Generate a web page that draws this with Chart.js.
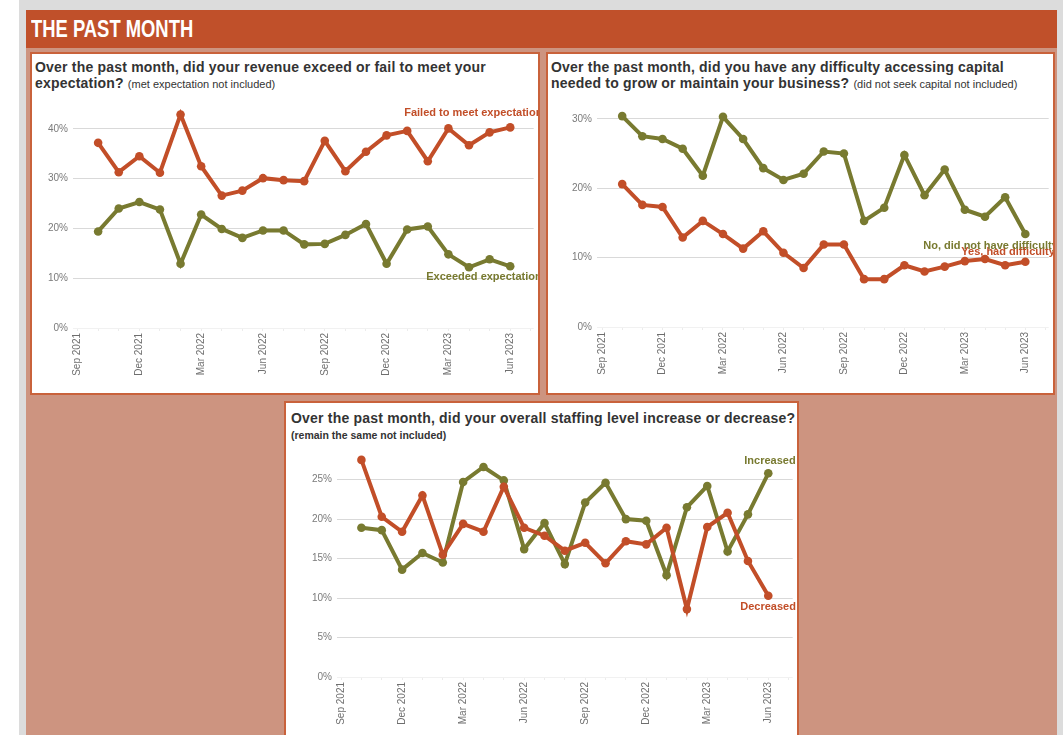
<!DOCTYPE html>
<html>
<head>
<meta charset="utf-8">
<script src="https://cdn.jsdelivr.net/npm/chart.js@4.4.0/dist/chart.umd.min.js"></script>
<style>
    body { margin: 0; background: #ffffff; overflow: hidden; font-family: "Liberation Sans", Arial, sans-serif; }
    .frame { position: absolute; left: 19px; top: 0; width: 1044px; height: 735px; background: #dcdcdc; }
    .panel { position: absolute; left: 26px; top: 10px; width: 1031px; height: 725px; background: #cd9480; }
    .header { position: absolute; left: 26px; top: 10px; width: 1031px; height: 38px; background: #c0502a; }
    .header span { position: absolute; left: 5px; top: 6px; color: #fff; font-weight: bold; font-size: 23px;
        transform: scaleX(0.8); transform-origin: left; white-space: nowrap; }
    .card { position: absolute; background: #fff; border: 2px solid #c9623b; box-sizing: border-box; }
    .title { position: absolute; left: 3px; top: 5px; color: #333; font-weight: bold; font-size: 14px;
        line-height: 16px; letter-spacing: 0.2px; white-space: nowrap; }
    .title small { font-weight: normal; font-size: 11px; letter-spacing: 0; }
    .title .sub { font-size: 10.5px; letter-spacing: 0; }
    canvas { position: absolute; }
</style>
</head>
<body>
<div class="frame"></div>
<div class="panel"></div>
<div class="header"><span>THE PAST MONTH</span></div>

<div class="card" style="left:30px; top:52px; width:510px; height:343px;">
    <div class="title">Over the past month, did your revenue exceed or fail to meet your<br>expectation? <small>(met expectation not included)</small></div>
</div>
<div class="card" style="left:546px; top:52px; width:509px; height:343px;">
    <div class="title">Over the past month, did you have any difficulty accessing capital<br>needed to grow or maintain your business? <small>(did not seek capital not included)</small></div>
</div>
<div class="card" style="left:284px; top:401px; width:515px; height:345px;">
    <div class="title" style="left:5px; top:7px;">Over the past month, did your overall staffing level increase or decrease?<br><span class="sub">(remain the same not included)</span></div>
</div>

<canvas id="revenueChart" width="506" height="297" style="left:32px; top:95px;"></canvas>
<canvas id="capitalChart" width="505" height="297" style="left:548px; top:95px;"></canvas>
<canvas id="staffChart" width="511" height="295" style="left:286px; top:440px;"></canvas>

<script>
// Month axis (Sep 2021 is the axis start, data begins Oct 2021)
const months = ['Sep 2021', 'Oct 2021', 'Nov 2021', 'Dec 2021', 'Jan 2022', 'Feb 2022', 'Mar 2022',
    'Apr 2022', 'May 2022', 'Jun 2022', 'Jul 2022', 'Aug 2022', 'Sep 2022', 'Oct 2022', 'Nov 2022',
    'Dec 2022', 'Jan 2023', 'Feb 2023', 'Mar 2023', 'Apr 2023', 'May 2023', 'Jun 2023'];

// Revenue vs expectation (%)
const revenueFailed = [37.2, 31.3, 34.5, 31.2, 42.9, 32.5, 26.6, 27.6, 30.1, 29.7, 29.5,
    37.6, 31.5, 35.4, 38.7, 39.6, 33.5, 40.1, 36.7, 39.3, 40.3];
const revenueExceeded = [19.4, 24.0, 25.3, 23.8, 12.9, 22.8, 19.9, 18.1, 19.6, 19.6, 16.8,
    16.9, 18.7, 20.9, 12.9, 19.8, 20.4, 14.8, 12.2, 13.8, 12.4];

// Difficulty accessing capital (%)
const capitalNo = [30.4, 27.5, 27.1, 25.7, 21.8, 30.3, 27.1, 22.9, 21.2, 22.1, 25.3,
    25.0, 15.3, 17.2, 24.8, 19.0, 22.7, 16.9, 15.9, 18.7, 13.4];
const capitalYes = [20.6, 17.6, 17.3, 12.9, 15.3, 13.4, 11.3, 13.8, 10.7, 8.5, 11.9,
    11.9, 6.9, 6.9, 8.9, 8.0, 8.7, 9.5, 9.8, 8.9, 9.4];

// Staffing level (%)
const staffDecreased = [27.5, 20.3, 18.4, 23.0, 15.5, 19.4, 18.4, 24.1, 18.9, 17.9, 16.0,
    17.0, 14.4, 17.2, 16.8, 18.9, 8.6, 19.0, 20.8, 14.7, 10.3];
const staffIncreased = [18.9, 18.6, 13.6, 15.7, 14.5, 24.7, 26.6, 24.9, 16.2, 19.5, 14.3,
    22.1, 24.6, 20.0, 19.8, 12.9, 21.5, 24.2, 15.9, 20.6, 25.8];

const RED = '#c24e28';
const GREEN = '#787a30';
const FONT = '"Liberation Sans", Arial, sans-serif';

function toPoints(values) {
    // first value belongs to Oct 2021 (month index 1)
    return values.map((v, i) => ({ x: i + 1, y: v }));
}

// Draws the series name next to the last point, like Excel data labels
const endLabels = {
    id: 'endLabels',
    afterDatasetsDraw(chart) {
        const ctx = chart.ctx;
        chart.data.datasets.forEach((ds, i) => {
            if (!ds.endLabel) return;
            const pts = chart.getDatasetMeta(i).data;
            const last = pts[pts.length - 1];
            ctx.save();
            ctx.font = 'bold 11px ' + FONT;
            ctx.fillStyle = ds.borderColor;
            ctx.textAlign = 'left';
            ctx.textBaseline = 'middle';
            ctx.fillText(ds.endLabel, last.x + ds.labelDx, last.y + ds.labelDy);
            ctx.restore();
        });
    }
};

// no extra room for the rotated end labels, the plot runs to the card edge
function noPad(s) {
    s.paddingLeft = 0;
    s.paddingRight = 0;
    s.paddingTop = 0;
    s.paddingBottom = 0;
}

function makeChart(id, cfg) {
    const line = (values, color, label, dx, dy) => ({
        data: toPoints(values),
        borderColor: color,
        backgroundColor: color,
        pointBackgroundColor: color,
        borderWidth: 4,
        pointRadius: 4.3,
        pointBorderWidth: 0,
        tension: 0,
        endLabel: label,
        labelDx: dx,
        labelDy: dy
    });

    return new Chart(document.getElementById(id), {
        type: 'line',
        data: {
            datasets: [
                line(cfg.red, RED, cfg.redLabel, cfg.redDx, cfg.redDy),
                line(cfg.green, GREEN, cfg.greenLabel, cfg.greenDx, cfg.greenDy)
            ]
        },
        options: {
            responsive: false,
            animation: false,
            events: [],
            layout: { padding: { top: cfg.padTop, right: 0, left: 0, bottom: 0 } },
            plugins: { legend: { display: false }, tooltip: { enabled: false } },
            scales: {
                x: {
                    type: 'linear',
                    min: cfg.xMin,
                    max: cfg.xMax,
                    border: { display: false },
                    grid: { drawOnChartArea: false, drawTicks: true, tickLength: 3, color: '#ececec' },
                    ticks: {
                        stepSize: 1,
                        autoSkip: false,
                        includeBounds: false,
                        minRotation: 90,
                        maxRotation: 90,
                        padding: 2,
                        color: '#6e6e6e',
                        font: { family: FONT, size: 10 },
                        callback: v => (v % 3 === 0 && months[v]) ? months[v] : ''
                    },
                    afterFit: s => { s.height = cfg.xAxisH; noPad(s); }
                },
                y: {
                    min: 0,
                    max: cfg.yMax,
                    border: { display: false },
                    grid: {
                        drawTicks: false,
                        color: c => c.tick.value === 0 ? '#f1f1f1' : '#d9d9d9'
                    },
                    ticks: {
                        stepSize: cfg.yStep,
                        includeBounds: false,
                        padding: 5,
                        color: '#7a7a7a',
                        font: { family: FONT, size: 10 },
                        callback: v => v + '%'
                    },
                    afterFit: s => { s.width = cfg.yAxisW; noPad(s); }
                }
            }
        },
        plugins: [endLabels]
    });
}

makeChart('revenueChart', {
    red: revenueFailed, redLabel: 'Failed to meet expectations', redDx: -106, redDy: -14,
    green: revenueExceeded, greenLabel: 'Exceeded expectations', greenDx: -84, greenDy: 11,
    xMin: -0.22, xMax: 22.14, yMax: 45, yStep: 10, yAxisW: 41, xAxisH: 64, padTop: 9
});

makeChart('capitalChart', {
    red: capitalYes, redLabel: 'Yes, had difficulty', redDx: -64, redDy: -10,
    green: capitalNo, greenLabel: 'No, did not have difficulty', greenDx: -102, greenDy: 12,
    xMin: -0.25, xMax: 22.16, yMax: 32, yStep: 10, yAxisW: 49, xAxisH: 65, padTop: 10
});

makeChart('staffChart', {
    red: staffDecreased, redLabel: 'Decreased', redDx: -28, redDy: 11,
    green: staffIncreased, greenLabel: 'Increased', greenDx: -24, greenDy: -12,
    xMin: -0.2, xMax: 22.2, yMax: 28.5, yStep: 5, yAxisW: 51, xAxisH: 58, padTop: 12
});
</script>
</body>
</html>
